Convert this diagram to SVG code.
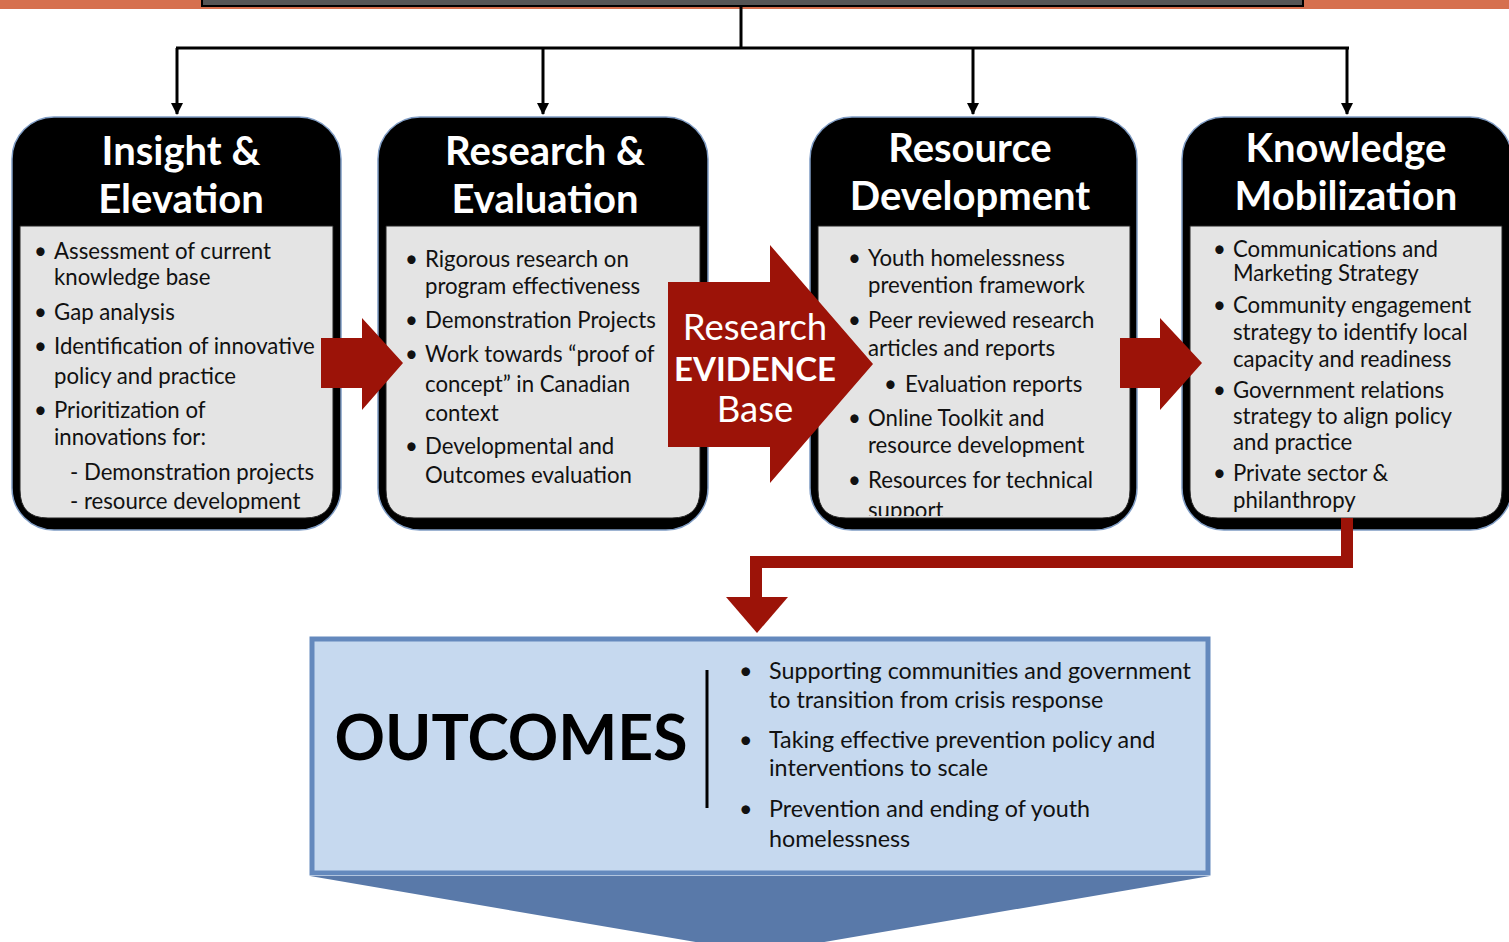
<svg xmlns="http://www.w3.org/2000/svg" width="1509" height="942" viewBox="0 0 1509 942">
<defs>
<marker id="ah" viewBox="0 0 12 12" refX="11" refY="6" markerWidth="12" markerHeight="12" markerUnits="userSpaceOnUse" orient="auto">
<path d="M0,0 L12,6 L0,12 Z" fill="#000"/>
</marker>
<clipPath id="clip3"><rect x="818" y="226" width="312" height="290"/></clipPath>
<style>
.outer{fill:#000;stroke:#7f9cc4;stroke-width:1.5}
.inner{fill:#e4e4e4;stroke:#222;stroke-width:1}
.hd{font-family:Lato,"Open Sans",sans-serif;font-weight:bold;font-size:40px;fill:#fff;text-anchor:middle}
.bt{font-family:Lato,"Open Sans",sans-serif;font-size:22.2px;fill:#111}
.ot{font-family:Lato,"Open Sans",sans-serif;font-size:23.3px;fill:#111}
.red{fill:#9c1308}
.tree{fill:none;stroke:#000;stroke-width:3}
</style>
</defs>
<rect x="0" y="0" width="1509" height="9" fill="#d6704e"/>
<rect x="202" y="-4" width="1101" height="10" fill="#555" stroke="#000" stroke-width="2"/>

<g id="node-insight">
<rect class="outer" x="12" y="117" width="329" height="413" rx="42"/>
<path class="inner" d="M20,226 H333 V490 Q333,518 305,518 H48 Q20,518 20,490 Z"/>
<text class="hd" x="181" y="165">Insight &amp;</text>
<text class="hd" x="181" y="213">Elevation</text>
<g class="bt">
<text x="34" y="259">•</text><text x="54" y="259">Assessment of current</text>
<text x="54" y="285">knowledge base</text>
<text x="34" y="320">•</text><text x="54" y="320">Gap analysis</text>
<text x="34" y="354">•</text><text x="54" y="354">Identification of innovative</text>
<text x="54" y="384">policy and practice</text>
<text x="34" y="418">•</text><text x="54" y="418">Prioritization of</text>
<text x="54" y="445">innovations for:</text>
<text x="70" y="480">- Demonstration projects</text>
<text x="70" y="509">-  resource development</text>
</g>
</g>

<g id="node-research">
<rect class="outer" x="378" y="117" width="330" height="413" rx="42"/>
<path class="inner" d="M386,226 H700 V490 Q700,518 672,518 H414 Q386,518 386,490 Z"/>
<text class="hd" x="545" y="165">Research &amp;</text>
<text class="hd" x="545" y="213">Evaluation</text>
<g class="bt">
<text x="405" y="267">•</text><text x="425" y="267">Rigorous research on</text>
<text x="425" y="294">program effectiveness</text>
<text x="405" y="328">•</text><text x="425" y="328">Demonstration Projects</text>
<text x="405" y="362">•</text><text x="425" y="362">Work towards “proof of</text>
<text x="425" y="392">concept” in Canadian</text>
<text x="425" y="421">context</text>
<text x="405" y="454">•</text><text x="425" y="454">Developmental and</text>
<text x="425" y="483">Outcomes evaluation</text>
</g>
</g>

<g id="node-resource">
<rect class="outer" x="810" y="117" width="327" height="413" rx="42"/>
<path class="inner" d="M818,226 H1130 V490 Q1130,518 1102,518 H846 Q818,518 818,490 Z"/>
<text class="hd" x="970" y="162">Resource</text>
<text class="hd" x="970" y="210">Development</text>
<g class="bt" clip-path="url(#clip3)">
<text x="848" y="266">•</text><text x="868" y="266">Youth homelessness</text>
<text x="868" y="293">prevention framework</text>
<text x="848" y="328">•</text><text x="868" y="328">Peer reviewed research</text>
<text x="868" y="356">articles and reports</text>
<text x="884" y="392">•</text><text x="905" y="392">Evaluation reports</text>
<text x="848" y="426">•</text><text x="868" y="426">Online Toolkit  and</text>
<text x="868" y="453">resource development</text>
<text x="848" y="488">•</text><text x="868" y="488">Resources for technical</text>
<text x="868" y="518">support</text>
</g>
</g>

<g id="node-knowledge">
<rect class="outer" x="1182" y="117" width="330" height="413" rx="42"/>
<path class="inner" d="M1190,226 H1502 V490 Q1502,518 1474,518 H1218 Q1190,518 1190,490 Z"/>
<text class="hd" x="1346" y="162">Knowledge</text>
<text class="hd" x="1346" y="210">Mobilization</text>
<g class="bt">
<text x="1213" y="257">•</text><text x="1233" y="257">Communications and</text>
<text x="1233" y="281">Marketing Strategy</text>
<text x="1213" y="313">•</text><text x="1233" y="313">Community engagement</text>
<text x="1233" y="340">strategy to identify local</text>
<text x="1233" y="367">capacity and readiness</text>
<text x="1213" y="398">•</text><text x="1233" y="398">Government relations</text>
<text x="1233" y="424">strategy to align policy</text>
<text x="1233" y="450">and practice</text>
<text x="1213" y="481">•</text><text x="1233" y="481">Private sector &amp;</text>
<text x="1233" y="508">philanthropy</text>
</g>
</g>

<g id="node-evidence">
<polygon class="red" points="668,282 770,282 770,245 873,364 770,483 770,447 668,447"/>
<text x="755" y="340" font-family="Lato,'Open Sans',sans-serif" font-size="36.5" fill="#fff" text-anchor="middle">Research</text>
<text x="755" y="381" font-family="Lato,'Open Sans',sans-serif" font-size="33" font-weight="bold" fill="#fff" text-anchor="middle">EVIDENCE</text>
<text x="755" y="422" font-family="Lato,'Open Sans',sans-serif" font-size="36.5" fill="#fff" text-anchor="middle">Base</text>
</g>

<g id="node-outcomes">
<polygon points="310,876 1210,876 760,953" fill="#5979a9"/>
<rect x="312" y="639" width="896" height="234" fill="#c6d9ef" stroke="#6489bd" stroke-width="5"/>
<text x="511" y="760" font-family="Lato,'Open Sans',sans-serif" font-size="62.5" font-weight="bold" fill="#000" text-anchor="middle">OUTCOMES</text>
<line x1="707" y1="670" x2="707" y2="808" stroke="#000" stroke-width="3"/>
<g class="ot">
<text x="739" y="679">•</text><text x="769" y="679">Supporting communities and government</text>
<text x="769" y="708">to transition from crisis response</text>
<text x="739" y="748">•</text><text x="769" y="748">Taking effective prevention policy and</text>
<text x="769" y="776">interventions to scale</text>
<text x="739" y="817">•</text><text x="769" y="817">Prevention and ending of youth</text>
<text x="769" y="847">homelessness</text>
</g>
</g>

<g id="connectors">
<path class="tree" d="M741,6 V48"/>
<path class="tree" d="M176,48 H1349"/>
<path class="tree" d="M177,48 V114" marker-end="url(#ah)"/>
<path class="tree" d="M543,48 V114" marker-end="url(#ah)"/>
<path class="tree" d="M973,48 V114" marker-end="url(#ah)"/>
<path class="tree" d="M1347,48 V114" marker-end="url(#ah)"/>
<polygon class="red" points="321,338 362,338 362,318 403,363 362,410 362,388 321,388"/>
<polygon class="red" points="1120,338 1160,338 1160,318 1202,363 1160,410 1160,388 1120,388"/>
<path d="M1347,518 V562 H756 V600" fill="none" stroke="#9c1308" stroke-width="12"/>
<polygon class="red" points="726,597 788,597 757,633"/>
</g>
</svg>
